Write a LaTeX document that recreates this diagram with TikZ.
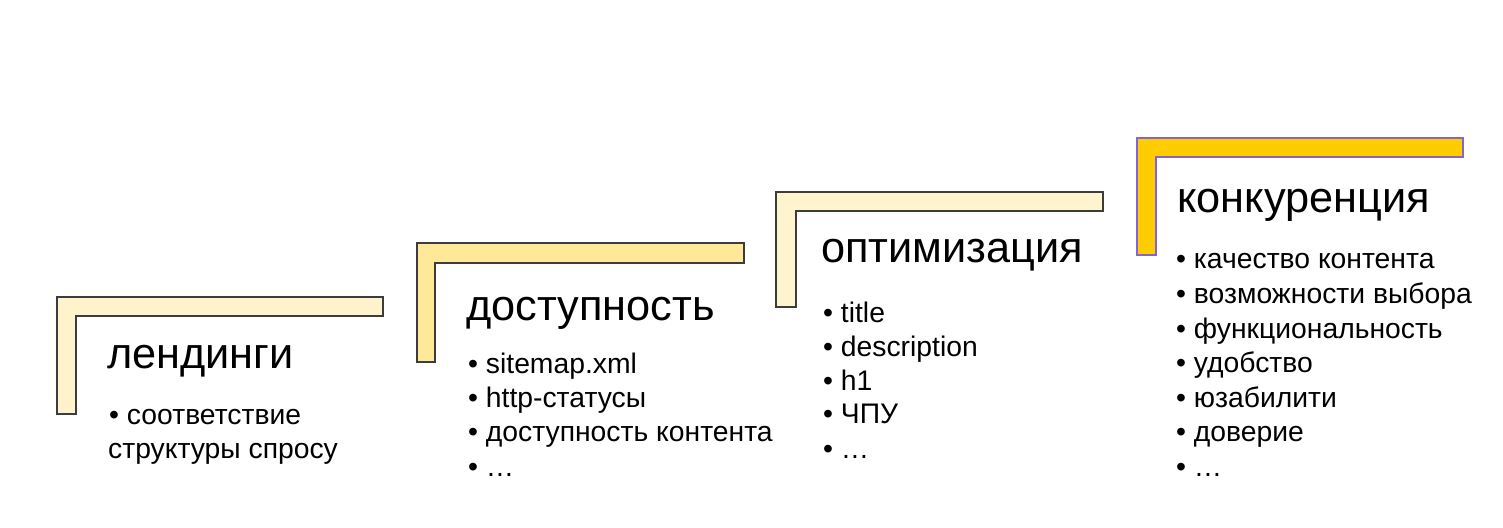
\documentclass[tikz,border=0pt]{standalone}
\usepackage{fontspec}
\setmainfont{Liberation Sans}
\definecolor{fillA}{RGB}{255,243,204}
\definecolor{fillB}{RGB}{255,233,153}
\definecolor{fillC}{RGB}{255,244,206}
\definecolor{fillD}{RGB}{255,204,0}
\definecolor{edgeG}{RGB}{60,60,60}
\definecolor{edgeP}{RGB}{130,100,210}
\begin{document}
\begin{tikzpicture}[x=1pt,y=-1pt,
  stair/.style={draw=edgeG,line width=1.2pt},
  ttl/.style={anchor=base west,inner sep=0pt,font=\fontsize{43.3}{50}\selectfont},
  itm/.style={anchor=base west,inner sep=0pt,font=\fontsize{28.3}{34}\selectfont}]
\useasboundingbox (0,0) rectangle (1503,527);
\fill[white] (0,0) rectangle (1503,527);
% stairs
\draw[stair,fill=fillA] (57,297) -- (383,297) -- (383,316) -- (76,316) -- (76,414) -- (57,414) -- cycle;
\draw[stair,fill=fillB] (417,243) -- (744,243) -- (744,263) -- (435,263) -- (435,362) -- (417,362) -- cycle;
\draw[stair,fill=fillC] (776,192) -- (1103,192) -- (1103,211) -- (796,211) -- (796,307) -- (776,307) -- cycle;
\draw[stair,draw=edgeP,fill=fillD] (1137,138) -- (1463,138) -- (1463,157) -- (1156,157) -- (1156,255) -- (1137,255) -- cycle;
% column 1
\node[ttl] (t1) at (107,368) {лендинги};
\node[itm] (a1) at (109,424) {• соответствие};
\node[itm] (a2) at (108,458) {структуры спросу};
% column 2
\node[ttl] (t2) at (466,320) {доступность};
\node[itm] (b1) at (468,373) {• sitemap.xml};
\node[itm] (b2) at (468,407) {• http-статусы};
\node[itm] (b3) at (468,441) {• доступность контента};
\node[itm] (b4) at (468,476) {• …};
% column 3
\node[ttl] (t3) at (821,262) {оптимизация};
\node[itm] (c1) at (823,322) {• title};
\node[itm] (c2) at (823,356) {• description};
\node[itm] (c3) at (823,390) {• h1};
\node[itm] (c4) at (823,423) {• ЧПУ};
\node[itm] (c5) at (823,458) {• …};
% column 4
\node[ttl] (t4) at (1177,212) {конкуренция};
\node[itm] (d1) at (1176,268) {• качество контента};
\node[itm] (d2) at (1176,303) {• возможности выбора};
\node[itm] (d3) at (1176,338) {• функциональность};
\node[itm] (d4) at (1176,372) {• удобство};
\node[itm] (d5) at (1176,407) {• юзабилити};
\node[itm] (d6) at (1176,441) {• доверие};
\node[itm] (d7) at (1176,476) {• …};
\end{tikzpicture}
\end{document}
